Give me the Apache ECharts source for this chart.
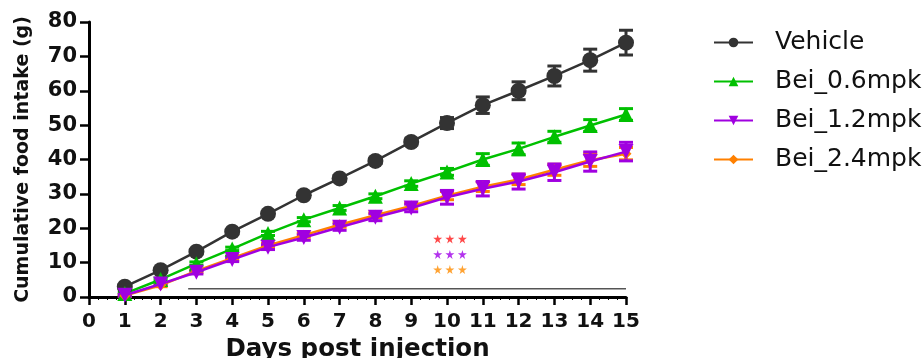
<!DOCTYPE html>
<html>
<head>
<meta charset="utf-8">
<script src="https://cdn.jsdelivr.net/npm/echarts@6/dist/echarts.min.js"></script>
<style>
  html, body { margin: 0; padding: 0; background: #fff; }
  #chart { width: 924px; height: 358px; }
</style>
</head>
<body>
<div id="chart"></div>
<script>
// Cumulative food intake per group, days 1..15 (g), mean and SEM
const days = [1, 2, 3, 4, 5, 6, 7, 8, 9, 10, 11, 12, 13, 14, 15];
const xTicks = [0, 1, 2, 3, 4, 5, 6, 7, 8, 9, 10, 11, 12, 13, 14, 15];
const yTicks = [0, 10, 20, 30, 40, 50, 60, 70, 80];

const vehicle    = [3.0, 7.8, 13.2, 19.0, 24.2, 29.6, 34.5, 39.6, 45.1, 50.6, 55.8, 60.0, 64.3, 68.9, 74.0];
const vehicleErr = [0.5, 0.5, 0.6, 0.6, 0.7, 0.7, 0.8, 0.8, 0.9, 1.6, 2.4, 2.6, 2.9, 3.2, 3.6];

const bei06    = [1.0, 5.1, 9.7, 14.0, 18.5, 22.5, 25.9, 29.3, 33.0, 36.4, 40.0, 43.1, 46.6, 49.9, 53.1];
const bei06Err = [0.3, 0.4, 0.5, 0.5, 0.6, 0.6, 0.7, 0.7, 0.8, 1.0, 1.7, 1.7, 1.6, 1.7, 1.7];

const bei12    = [0.5, 3.8, 7.2, 10.9, 14.5, 17.3, 20.3, 23.2, 25.9, 29.0, 31.5, 33.6, 36.3, 39.4, 42.3];
const bei12Err = [0.3, 0.4, 0.5, 0.6, 0.7, 0.8, 0.9, 1.0, 1.1, 2.0, 2.1, 2.2, 2.4, 2.8, 2.7];

const bei24    = [0.4, 3.4, 7.6, 11.3, 15.0, 18.0, 21.0, 23.8, 26.5, 29.5, 32.1, 34.2, 37.0, 39.8, 41.7];
const bei24Err = [0.3, 0.4, 0.5, 0.5, 0.6, 0.6, 0.7, 0.7, 0.8, 1.2, 1.4, 1.5, 1.6, 1.8, 1.8];

// Significance bracket (days 2.77..15) and three rows of stars
const sigLineX = [2.77, 15];
const sigLineY = 2.4;
const starX = [9.74, 10.08, 10.43];
const starY = [16.9, 12.4, 8.0];
const starColors = ['#ff1a1a', '#a000e8', '#ff8c00'];

const names  = ['Vehicle', 'Bei_0.6mpk', 'Bei_1.2mpk', 'Bei_2.4mpk'];
const colors = ['#333333', '#00c000', '#a000e0', '#ff8000'];

const FONT = '"DejaVu Sans", "Liberation Sans", sans-serif';
const STAR = 'path://M50,0 L61,35 L98,35 L68,57 L79,91 L50,70 L21,91 L32,57 L2,35 L39,35 Z';

function pairs(ys) { return days.map((d, i) => [d, ys[i]]); }

function errorSeries(ys, errs, color, z) {
  return {
    type: 'custom',
    z: z,
    silent: true,
    data: days.map((d, i) => [d, ys[i] - errs[i], ys[i] + errs[i]]),
    renderItem: function (params, api) {
      const lo = api.coord([api.value(0), api.value(1)]);
      const hi = api.coord([api.value(0), api.value(2)]);
      const half = 7;
      const st = { stroke: color, lineWidth: 3 };
      return {
        type: 'group',
        children: [
          { type: 'line', shape: { x1: lo[0], y1: lo[1], x2: hi[0], y2: hi[1] }, style: st },
          { type: 'line', shape: { x1: lo[0] - half, y1: lo[1], x2: lo[0] + half, y2: lo[1] }, style: st },
          { type: 'line', shape: { x1: hi[0] - half, y1: hi[1], x2: hi[0] + half, y2: hi[1] }, style: st }
        ]
      };
    }
  };
}

function lineSeries(name, ys, color, symbol, size, rotate, z) {
  return {
    name: name,
    type: 'line',
    data: pairs(ys),
    z: z,
    symbol: symbol,
    symbolSize: size,
    symbolRotate: rotate,
    showAllSymbol: true,
    lineStyle: { color: color, width: 2.5 },
    itemStyle: { color: color, borderWidth: 0 },
    emphasis: { disabled: true }
  };
}

const chart = echarts.init(document.getElementById('chart'), null, { renderer: 'canvas' });

const series = [
  errorSeries(vehicle, vehicleErr, colors[0], 3),
  errorSeries(bei06, bei06Err, colors[1], 3),
  errorSeries(bei24, bei24Err, colors[3], 3),
  errorSeries(bei12, bei12Err, colors[2], 4),
  lineSeries(names[0], vehicle, colors[0], 'circle', 16, 0, 5),
  lineSeries(names[1], bei06, colors[1], 'triangle', 15, 0, 5),
  lineSeries(names[2], bei12, colors[2], 'triangle', 15, 180, 7),
  lineSeries(names[3], bei24, colors[3], 'diamond', 11, 0, 6),
  {
    type: 'line',
    silent: true,
    symbol: 'none',
    data: sigLineX.map(x => [x, sigLineY]),
    lineStyle: { color: '#555555', width: 1.5 },
    z: 2
  }
];

starY.forEach((y, r) => {
  series.push({
    type: 'scatter',
    silent: true,
    symbol: STAR,
    symbolSize: 9,
    itemStyle: { color: starColors[r] },
    data: starX.map(x => [x, y]),
    z: 8
  });
});

chart.setOption({
  animation: false,
  backgroundColor: '#ffffff',
  grid: {
    left: 89, right: 298, top: 22, bottom: 61,
    containLabel: false,
    outerBoundsMode: 'none'
  },
  legend: {
    data: names,
    orient: 'vertical',
    left: 708,
    top: 25,
    itemWidth: 39,
    itemHeight: 12,
    itemGap: 14,
    textStyle: { fontSize: 25, color: '#111', fontFamily: FONT, padding: [0, 0, 0, 17] },
    selectedMode: false
  },
  xAxis: {
    type: 'value',
    min: 0,
    max: 15,
    interval: 1,
    name: 'Days post injection',
    nameLocation: 'middle',
    nameGap: 40,
    nameTextStyle: { fontSize: 24.5, fontWeight: 'bold', color: '#111', fontFamily: FONT },
    axisLine: { show: true, onZero: false, lineStyle: { color: '#000', width: 3 } },
    axisTick: { show: true, length: 8, lineStyle: { color: '#000', width: 2.5 } },
    minorTick: { show: true, splitNumber: 4, length: 3, lineStyle: { color: '#000', width: 1 } },
    axisLabel: {
      fontSize: 20, fontWeight: 'bold', color: '#111', fontFamily: FONT, margin: 15,
      formatter: v => (xTicks.indexOf(v) >= 0 ? String(v) : '')
    },
    splitLine: { show: false }
  },
  yAxis: {
    type: 'value',
    min: 0,
    max: 80,
    interval: 10,
    name: 'Cumulative food intake (g)',
    nameLocation: 'middle',
    nameGap: 56,
    nameTextStyle: { fontSize: 19, fontWeight: 'bold', color: '#111', fontFamily: FONT },
    axisLine: { show: true, onZero: false, lineStyle: { color: '#000', width: 3 } },
    axisTick: { show: true, length: 9, lineStyle: { color: '#000', width: 2.5 } },
    axisLabel: {
      fontSize: 21, fontWeight: 'bold', color: '#111', fontFamily: FONT, margin: 12,
      formatter: v => (yTicks.indexOf(v) >= 0 ? String(v) : '')
    },
    splitLine: { show: false }
  },
  series: series
});
</script>
</body>
</html>
